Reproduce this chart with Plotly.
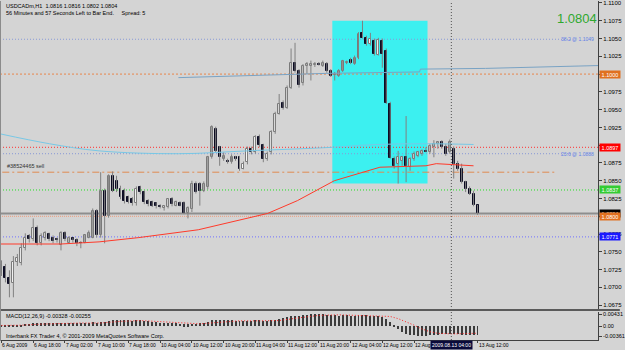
import plotly.graph_objects as go

W, H = 625, 350
PLOT_W = 603

# ---------------- data ----------------
bars = list(range(121))
opens = [1.0731,1.0728,1.0713,1.0706,1.0735,1.0734,1.0756,1.0772,1.0768,1.0784,
         1.0762,1.0770,1.0775,1.0770,1.0768,1.0759,1.0776,1.0763,1.0769,1.0766,
         1.0763,1.0763,1.0770,1.0770,1.0807,1.0773,1.0836,1.0801,1.0856,1.0850,
         1.0839,1.0836,1.0827,1.0824,1.0818,1.0841,1.0834,1.0822,1.0820,1.0818,
         1.0815,1.0811,1.0813,1.0824,1.0815,1.0818,1.0818,1.0804,1.0810,1.0846,
         1.0845,1.0836,1.0841,1.0883,1.0923,1.0897,1.0881,1.0878,1.0876,1.0883,
         1.0883,1.0867,1.0876,1.0895,1.0890,1.0911,1.0900,1.0881,1.0890,1.0918,
         1.0944,1.0960,1.0953,1.0981,1.1016,1.1005,1.0987,1.1012,1.1012,1.1013,
         1.1014,1.1012,1.1014,1.1005,1.0999,1.0998,1.1005,1.1016,1.1020,1.1014,
         1.1023,1.1058,1.1051,1.1042,1.1047,1.1027,1.1047,1.1033,1.0958,1.0881,
         1.0874,1.0878,1.0883,1.0869,1.0881,1.0885,1.0888,1.0892,1.0890,1.0898,
         1.0901,1.0904,1.0898,1.0890,1.0895,1.0874,1.0867,1.0848,1.0839,1.0832,
         1.0816]
highs = [1.0738,1.0733,1.0724,1.0744,1.0747,1.0762,1.0776,1.0775,1.0797,1.0787,
         1.0776,1.0779,1.0777,1.0773,1.0770,1.0779,1.0779,1.0772,1.0770,1.0769,
         1.0765,1.0775,1.0780,1.0811,1.0810,1.0862,1.0839,1.0859,1.0863,1.0857,
         1.0843,1.0839,1.0829,1.0827,1.0842,1.0843,1.0836,1.0824,1.0822,1.0820,
         1.0817,1.0815,1.0825,1.0827,1.0822,1.0821,1.0821,1.0814,1.0850,1.0849,
         1.0848,1.0849,1.0885,1.0928,1.0926,1.0899,1.0890,1.0881,1.0887,1.0885,
         1.0885,1.0877,1.0898,1.0898,1.0914,1.0915,1.0902,1.0891,1.0921,1.0947,
         1.0972,1.0963,1.0984,1.1036,1.1044,1.1007,1.1014,1.1017,1.1019,1.1017,
         1.1017,1.1019,1.1017,1.1007,1.1003,1.1007,1.1020,1.1019,1.1023,1.1026,
         1.1059,1.1075,1.1054,1.1058,1.1050,1.1051,1.1050,1.1036,1.0961,1.0884,
         1.0892,1.0885,1.0941,1.0883,1.0891,1.0892,1.0894,1.0897,1.0902,1.0907,
         1.0905,1.0907,1.0902,1.0908,1.0898,1.0878,1.0874,1.0850,1.0842,1.0836,
         1.0816]
lows = [1.0716,1.0707,1.0686,1.0686,1.0730,1.0731,1.0752,1.0763,1.0765,1.0759,
        1.0759,1.0766,1.0765,1.0762,1.0763,1.0752,1.0765,1.0762,1.0763,1.0758,
        1.0755,1.0762,1.0769,1.0769,1.0770,1.0770,1.0762,1.0798,1.0834,1.0834,
        1.0824,1.0818,1.0818,1.0815,1.0815,1.0831,1.0817,1.0814,1.0813,1.0811,
        1.0811,1.0808,1.0811,1.0814,1.0814,1.0814,1.0803,1.0797,1.0806,1.0832,
        1.0815,1.0834,1.0838,1.0881,1.0890,1.0871,1.0878,1.0874,1.0874,1.0878,
        1.0864,1.0866,1.0873,1.0887,1.0888,1.0897,1.0876,1.0878,1.0887,1.0916,
        1.0943,1.0950,1.0951,1.0979,1.1002,1.0981,1.0984,1.1000,1.0991,1.1010,
        1.1012,1.1010,1.1002,1.0996,1.0991,1.0996,1.1003,1.1014,1.1014,1.1013,
        1.1021,1.1050,1.1040,1.1040,1.1026,1.1026,1.1009,1.0958,1.0881,1.0867,
        1.0846,1.0871,1.0848,1.0864,1.0878,1.0883,1.0885,1.0890,1.0888,1.0883,
        1.0895,1.0895,1.0885,1.0888,1.0853,1.0864,1.0846,1.0834,1.0830,1.0814,
        1.0802]
closes = [1.0720,1.0713,1.0705,1.0735,1.0741,1.0756,1.0770,1.0768,1.0784,1.0762,
          1.0772,1.0776,1.0768,1.0765,1.0766,1.0776,1.0768,1.0769,1.0766,1.0762,
          1.0762,1.0773,1.0776,1.0807,1.0773,1.0836,1.0801,1.0856,1.0836,1.0839,
          1.0827,1.0822,1.0820,1.0818,1.0839,1.0834,1.0820,1.0817,1.0815,1.0814,
          1.0813,1.0814,1.0824,1.0817,1.0820,1.0815,1.0804,1.0811,1.0846,1.0834,
          1.0835,1.0846,1.0883,1.0925,1.0892,1.0883,1.0885,1.0877,1.0884,1.0881,
          1.0867,1.0874,1.0895,1.0890,1.0911,1.0900,1.0881,1.0888,1.0918,1.0944,
          1.0958,1.0953,1.0981,1.1016,1.1005,1.0984,1.1012,1.1014,1.1014,1.1014,
          1.1013,1.1016,1.1005,1.0998,1.1000,1.1005,1.1019,1.1017,1.1016,1.1023,
          1.1057,1.1051,1.1042,1.1050,1.1028,1.1048,1.1028,1.0960,1.0882,1.0871,
          1.0883,1.0884,1.0871,1.0880,1.0888,1.0890,1.0892,1.0891,1.0899,1.0902,
          1.0904,1.0898,1.0888,1.0904,1.0874,1.0867,1.0848,1.0839,1.0832,1.0816,
          1.0804]

macd_main = [0.0004,0.0003,0.0002,0.0003,0.0004,0.0006,0.0008,0.0009,0.0011,0.0011,
             0.0012,0.0012,0.0012,0.0012,0.0012,0.0012,0.0012,0.0012,0.0011,0.0011,
             0.0011,0.0011,0.0011,0.0014,0.0013,0.0017,0.0017,0.0020,0.0021,0.0022,
             0.0022,0.0022,0.0021,0.0020,0.0021,0.0021,0.0019,0.0018,0.0016,0.0015,
             0.0013,0.0012,0.0012,0.0011,0.0010,0.0009,0.0007,0.0007,0.0009,0.0009,
             0.0010,0.0011,0.0015,0.0021,0.0022,0.0022,0.0022,0.0021,0.0021,0.0020,
             0.0019,0.0019,0.0020,0.0020,0.0021,0.0021,0.0019,0.0019,0.0021,0.0024,
             0.0027,0.0029,0.0032,0.0037,0.0039,0.0039,0.0041,0.0042,0.0043,0.0043,
             0.0043,0.0043,0.0042,0.0041,0.0040,0.0039,0.0040,0.0040,0.0039,0.0039,
             0.0041,0.0041,0.0040,0.0039,0.0037,0.0037,0.0035,0.0027,0.0014,0.0005,
             -0.0012,-0.0022,-0.0028,-0.0032,-0.0034,-0.0036,-0.0036,-0.0035,-0.0034,-0.0032,
             -0.0031,-0.0030,-0.0030,-0.0029,-0.0030,-0.0030,-0.0031,-0.0032,-0.0032,-0.0033,
             -0.00328]
signal_bars = [0,5,10,15,20,25,30,35,40,45,50,55,60,65,70,75,80,85,90,95,98,100,102,104,106,108,110,114,120]
signal_vals = [0.0003,0.0004,0.0008,0.0011,0.0012,0.0012,0.0018,0.0021,0.0018,0.0013,0.0009,0.0014,
               0.0020,0.0020,0.0021,0.0031,0.0040,0.0042,0.0040,0.0039,0.0036,0.0028,0.0017,0.0004,
               -0.0010,-0.0020,-0.0026,-0.0028,-0.00255]

ma_red_bars = [-0.4,15,24.6,34.6,49.6,67.1,74.6,83.9,95.4,107,109.6,119]
ma_red_vals = [1.0761,1.0761,1.0764,1.0770,1.0781,1.0804,1.0822,1.0850,1.0869,1.0871,1.0874,1.0871]
ma_blue_bars = [-0.4,12.1,24.6,44.6,62,83.4,94.6,107,119]
ma_blue_vals = [1.0916,1.0902,1.0892,1.0888,1.0892,1.0897,1.0901,1.0902,1.0901]
ma_steel_bars = [44.6,62,82,105.4,105.6,122,139.6,145,145.2,150.4]
ma_steel_vals = [1.0995,1.0998,1.1001,1.1003,1.1007,1.1008,1.1011,1.1011,1.1012,1.1012]

x_tick_bars = [0,8,16,24,32,40,48,56,64,72,80,88,96,104,120]
x_tick_labels = ["6 Aug 2009","6 Aug 18:00","7 Aug 02:00","7 Aug 10:00","7 Aug 18:00",
                 "10 Aug 04:00","10 Aug 12:00","10 Aug 20:00","11 Aug 04:00","11 Aug 12:00",
                 "11 Aug 20:00","12 Aug 04:00","12 Aug 12:00","12 Aug 20:00",
                 "13 Aug 12:00"]
y_tick_vals = [1.1100,1.1075,1.1050,1.1025,1.1000,1.0975,1.0950,1.0925,1.0900,1.0875,
               1.0850,1.0825,1.0800,1.0775,1.0750,1.0725,1.0700,1.0675]
# labels hidden behind the coloured price boxes are left blank
y_tick_labels = ["1.1100","1.1075","1.1050","1.1025","","1.0975","1.0950","1.0925","",
                 "1.0875","1.0850","1.0825","","1.0775","1.0750","1.0725","1.0700","1.0675"]
macd_tick_vals = [0.00431, 0.0, -0.00361]
macd_tick_labels = ["0.00431", "0.00", "-0.00361"]

# horizontal price levels with right-axis labels
level_prices = [1.1000, 1.0897, 1.0837, 1.0804, 1.0800, 1.0771]
level_labels = ["1.1000", "1.0897", "1.0837", "1.0804", "1.0800", "1.0771"]
fib_prices = [1.1049, 1.0888]
fib_labels = ["38.2 @ 1.1049", "23.6 @ 1.0888"]
order_price = 1.0862
order_label = "#38524465 sell"
rect_bars = [83.4, 107.4]
rect_prices = [1.0846, 1.1075]
cross_bar = 113.4
cross_label = "2009.08.13 04:00"

title1 = "USDCADm,H1  1.0816 1.0816 1.0802 1.0804"
title2 = "56 Minutes and 57 Seconds Left to Bar End.     Spread: 5"
big_price = "1.0804"
macd_title = "MACD(12,26,9) -0.00328 -0.00255"
footer = "Interbank FX Trader 4, \u00a9 2001-2009 MetaQuotes Software Corp."

# ---------------- styling ----------------
BG = "#d4d4d4"
FONT = "Liberation Sans"
X_RANGE = [-0.375, 150.375]
Y_RANGE = [1.06694, 1.11028]
M_RANGE = [-0.00505, 0.0052]

def px(x):
    return x / PLOT_W

def py(y):
    return 1 - y / H

fig = go.Figure()

# wicks
wx, wy = [], []
for k, hi, lo in zip(bars, highs, lows):
    wx += [k, k, None]
    wy += [lo, hi, None]
fig.add_trace(go.Scatter(x=wx, y=wy, mode="lines", line=dict(color="#808080", width=1),
                         xaxis="x", yaxis="y", hoverinfo="skip"))

# bodies
base = [min(o, c) for o, c in zip(opens, closes)]
height = [max(abs(c - o), 0.00002) for o, c in zip(opens, closes)]
fill = ["#ffffff" if c >= o else "#0b0b22" for o, c in zip(opens, closes)]
edge = ["#7a7a7a" if c >= o else "#0b0b22" for o, c in zip(opens, closes)]
fig.add_trace(go.Bar(x=bars, y=height, base=base, width=0.5,
                     marker=dict(color=fill, line=dict(color=edge, width=1)),
                     xaxis="x", yaxis="y", hoverinfo="skip"))

# moving averages
fig.add_trace(go.Scatter(x=ma_steel_bars, y=ma_steel_vals, mode="lines",
                         line=dict(color="#7aa3c4", width=1), xaxis="x", yaxis="y"))
fig.add_trace(go.Scatter(x=ma_blue_bars, y=ma_blue_vals, mode="lines", line_shape="spline",
                         line=dict(color="#78c8e6", width=1), xaxis="x", yaxis="y"))
fig.add_trace(go.Scatter(x=ma_red_bars, y=ma_red_vals, mode="lines",
                         line=dict(color="#ff3a2a", width=1), xaxis="x", yaxis="y"))

# MACD
fig.add_trace(go.Bar(x=bars, y=macd_main, width=0.25, marker=dict(color="#3c3c3c", line=dict(width=0)),
                     xaxis="x2", yaxis="y2", hoverinfo="skip"))
fig.add_trace(go.Scatter(x=signal_bars, y=signal_vals, mode="lines",
                         line=dict(color="#ff2020", width=1, dash="1px,2px"), xaxis="x2", yaxis="y2"))

shapes = []
# cyan rectangle (background)
shapes.append(dict(type="rect", xref="x", yref="y", x0=rect_bars[0], x1=rect_bars[1],
                   y0=rect_prices[0], y1=rect_prices[1], fillcolor="#3cf0f0",
                   line=dict(width=0), layer="below"))

def hline(price, color, dash, x0=X_RANGE[0], x1=X_RANGE[1], width=1):
    shapes.append(dict(type="line", xref="x", yref="y", x0=x0, x1=x1, y0=price, y1=price,
                       line=dict(color=color, width=width, dash=dash), layer="below"))

hline(fib_prices[0], "#8899d6", "1px,2px", x1=143.6)
hline(fib_prices[1], "#8899d6", "1px,2px", x1=143.6)
hline(level_prices[0], "#e8864a", "2px,2px")
hline(level_prices[1], "#ff3030", "1px,2px")
hline(order_price, "#e08a50", "7px,3px,2px,3px", x0=0.2, x1=139.6)
hline(level_prices[2], "#20e020", "1px,2px")
hline(level_prices[3], "#8e8e8e", "solid", width=2)
hline(level_prices[4], "#f09a78", "1px,1px")
hline(level_prices[5], "#7070ff", "1px,2px")

# crosshair vertical line
shapes.append(dict(type="line", xref="x", yref="paper", x0=cross_bar, x1=cross_bar,
                   y0=py(340), y1=1, line=dict(color="#505050", width=1, dash="1px,2px")))
# frame / separators
shapes.append(dict(type="line", xref="paper", yref="paper", x0=0, x1=W / PLOT_W,
                   y0=py(310), y1=py(310), line=dict(color="#5a5a5a", width=2)))
shapes.append(dict(type="line", xref="paper", yref="paper", x0=px(0.5), x1=px(0.5),
                   y0=py(341), y1=1, line=dict(color="#8a8a8a", width=1)))

annotations = []
def text(x, y, s, size=5.5, color="#000000", xanchor="left", yanchor="middle", **kw):
    annotations.append(dict(xref="paper", yref="paper", x=px(x), y=py(y), text=s, showarrow=False,
                            xanchor=xanchor, yanchor=yanchor,
                            font=dict(family=FONT, size=size, color=color), **kw))

text(4, 5, title1)
text(4, 12, title2)
text(4, 316, macd_title)
text(4, 336, footer)
text(604, 18, big_price, size=13, color="#2ea82e", xanchor="right")

# order label
annotations.append(dict(xref="x", yref="y", x=1, y=order_price, text=order_label, showarrow=False,
                        xanchor="left", yanchor="bottom", yshift=1,
                        font=dict(family=FONT, size=5.5, color="#303030")))
# fib labels
for p, s in zip(fib_prices, fib_labels):
    annotations.append(dict(xref="paper", yref="y", x=px(601), y=p, text=s, showarrow=False,
                            xanchor="right", yanchor="middle",
                            font=dict(family=FONT, size=5, color="#5f7fe6")))

# x axis labels
for b, s in zip(x_tick_bars, x_tick_labels):
    annotations.append(dict(xref="x", yref="paper", x=b, y=py(344.5), text=s, showarrow=False,
                            xanchor="left", yanchor="middle", xshift=-1,
                            font=dict(family=FONT, size=5, color="#000000")))
# crosshair label
annotations.append(dict(xref="x", yref="paper", x=cross_bar, y=py(344.5), text=cross_label,
                        showarrow=False, xanchor="center", yanchor="middle", bgcolor="#0a0a3a",
                        borderpad=1, font=dict(family=FONT, size=5, color="#ffffff")))

# right axis price boxes
level_bg = ["#e07020", "#ff0000", "#33cc33", "#000000", "#e07020", "#1a1aff"]
for p, s, bg in zip(level_prices, level_labels, level_bg):
    annotations.append(dict(xref="paper", yref="y", x=px(604), y=p, text=s, showarrow=False,
                            xanchor="left", yanchor="middle", bgcolor=bg, width=20, height=7,
                            borderpad=0, align="center",
                            font=dict(family=FONT, size=5.5, color="#ffffff")))

fig.update_layout(
    width=W, height=H, margin=dict(l=0, r=W - PLOT_W, t=0, b=0),
    paper_bgcolor=BG, plot_bgcolor=BG, showlegend=False, hovermode=False,
    barmode="overlay", bargap=0,
    xaxis=dict(domain=[0, 1], range=X_RANGE, anchor="y", showticklabels=False, showgrid=False,
               zeroline=False, showline=False, ticks=""),
    yaxis=dict(domain=[py(309), 1], range=Y_RANGE, side="right", anchor="x",
               tickvals=y_tick_vals, ticktext=y_tick_labels, ticks="outside", ticklen=3,
               tickcolor="#404040", tickfont=dict(family=FONT, size=6, color="#000000"),
               showgrid=False, zeroline=False, showline=True, linecolor="#404040", linewidth=1),
    xaxis2=dict(domain=[0, 1], range=X_RANGE, anchor="y2", matches="x", showticklabels=False,
                showgrid=False, zeroline=False, showline=True, linecolor="#404040", linewidth=1,
                tickvals=x_tick_bars, ticks="outside", ticklen=2, tickcolor="#404040"),
    yaxis2=dict(domain=[py(340), py(312)], range=M_RANGE, side="right", anchor="x2",
                tickvals=macd_tick_vals, ticktext=macd_tick_labels, ticks="outside", ticklen=3,
                tickcolor="#404040", tickfont=dict(family=FONT, size=5.5, color="#000000"),
                showgrid=False, zeroline=False, showline=True, linecolor="#404040", linewidth=1),
    shapes=shapes, annotations=annotations,
)

fig.write_html("out.html", config={"displayModeBar": False})
